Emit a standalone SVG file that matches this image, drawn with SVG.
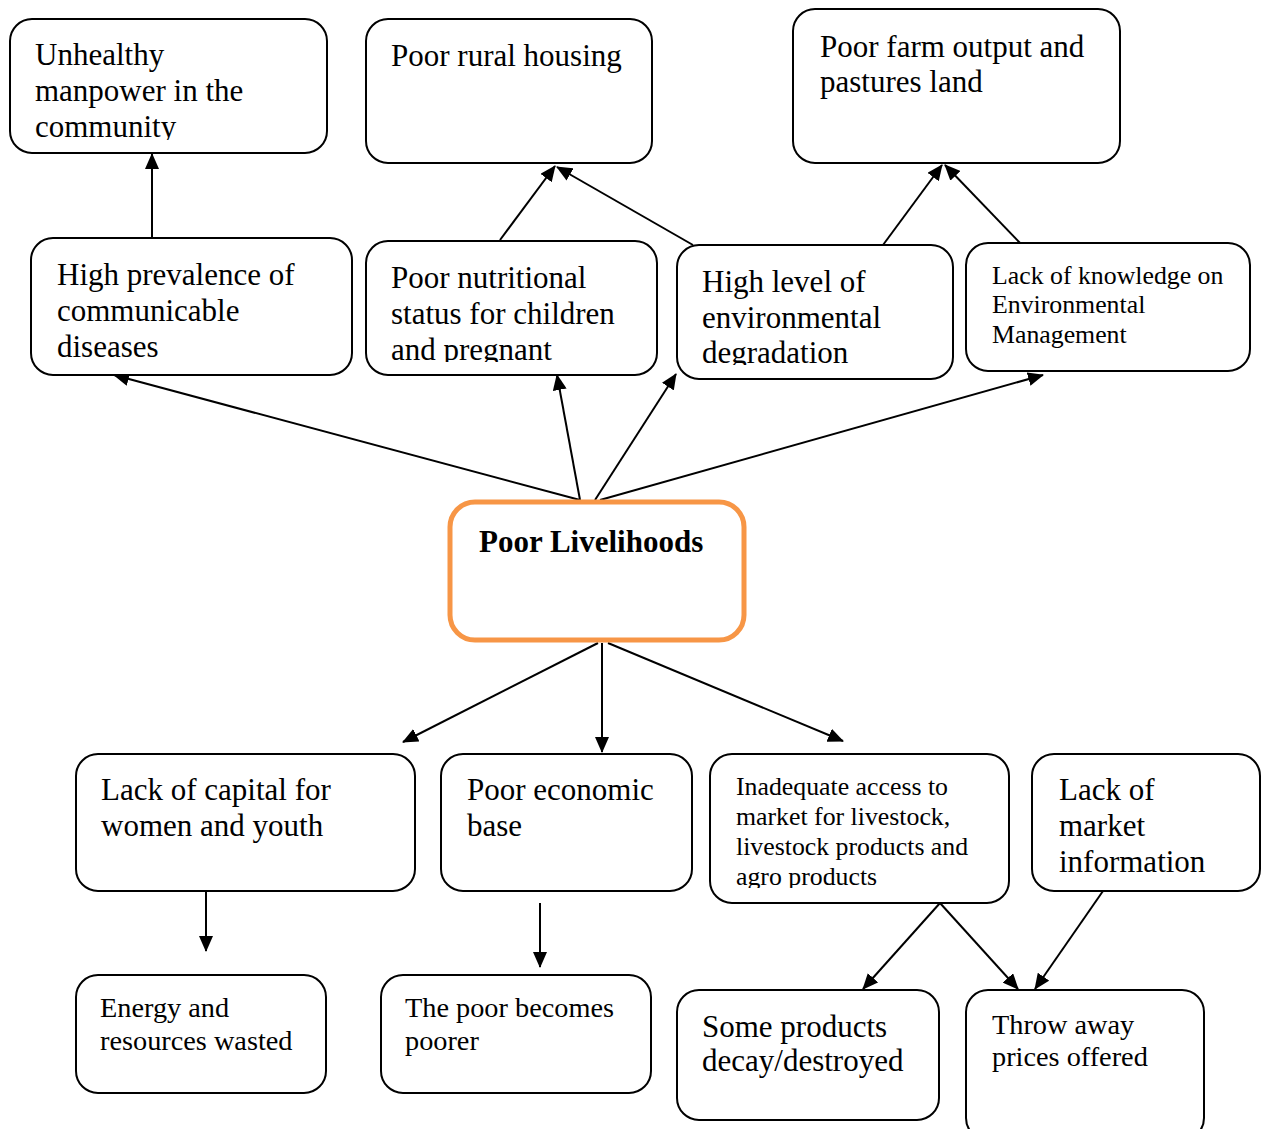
<svg xmlns="http://www.w3.org/2000/svg" width="1264" height="1129" viewBox="0 0 1264 1129">
<style>
.box{fill:#fff;stroke:#000;stroke-width:2}
.main{fill:#fff;stroke:#F79646;stroke-width:5}
.t{font-family:"Liberation Serif","Times New Roman",serif;fill:#000;font-size:31px}
.s26{font-size:25.8px}
.s28{font-size:28.3px}
.b{font-weight:bold}
.c{stroke:#000;stroke-width:2;fill:none;marker-end:url(#ah)}
</style>
<defs>
<marker id="ah" markerUnits="userSpaceOnUse" markerWidth="16" markerHeight="14" refX="15" refY="7" orient="auto">
<path d="M0,0 L16,7 L0,14 Z" fill="#000"/>
</marker>
<clipPath id="cp1"><rect x="10" y="19" width="317" height="121"/></clipPath>
<clipPath id="cp5"><rect x="366" y="241" width="291" height="121"/></clipPath>
<clipPath id="cp6"><rect x="677" y="245" width="276" height="120"/></clipPath>
<clipPath id="cp10"><rect x="710" y="754" width="299" height="134"/></clipPath>
</defs>

<g id="connectors">
<line class="c" x1="152" y1="238" x2="152" y2="154"/>
<line class="c" x1="500" y1="240" x2="555" y2="166"/>
<line class="c" x1="693" y1="245" x2="557" y2="167"/>
<line class="c" x1="883" y1="245" x2="942" y2="165"/>
<line class="c" x1="1020" y1="243" x2="945" y2="165"/>
<line class="c" x1="580" y1="500" x2="114" y2="375"/>
<line class="c" x1="580" y1="500" x2="557" y2="375"/>
<line class="c" x1="595" y1="500" x2="676" y2="374"/>
<line class="c" x1="600" y1="500" x2="1043" y2="375"/>
<line class="c" x1="598" y1="643" x2="403" y2="742"/>
<line class="c" x1="602" y1="643" x2="602" y2="752"/>
<line class="c" x1="608" y1="643" x2="843" y2="741"/>
<line class="c" x1="206" y1="891" x2="206" y2="951"/>
<line class="c" x1="540" y1="903" x2="540" y2="967"/>
<line class="c" x1="940" y1="903" x2="863" y2="989"/>
<line class="c" x1="940" y1="903" x2="1018" y2="989"/>
<line class="c" x1="1103" y1="891" x2="1035" y2="989"/>
</g>

<g id="n1">
<rect class="box" x="10" y="19" width="317" height="134" rx="22"/>
<g clip-path="url(#cp1)"><text class="t" x="35" y="65">Unhealthy</text><text class="t" x="35" y="101">manpower in the</text><text class="t" x="35" y="137">community</text></g>
</g>
<g id="n2">
<rect class="box" x="366" y="19" width="286" height="144" rx="22"/>
<text class="t" x="391" y="66">Poor rural housing</text>
</g>
<g id="n3">
<rect class="box" x="793" y="9" width="327" height="154" rx="22"/>
<text class="t" x="820" y="57">Poor farm output and</text>
<text class="t" x="820" y="92">pastures land</text>
</g>
<g id="n4">
<rect class="box" x="31" y="238" width="321" height="137" rx="22"/>
<text class="t" x="57" y="285">High prevalence of</text>
<text class="t" x="57" y="321">communicable</text>
<text class="t" x="57" y="357">diseases</text>
</g>
<g id="n5">
<rect class="box" x="366" y="241" width="291" height="134" rx="22"/>
<g clip-path="url(#cp5)"><text class="t" x="391" y="288">Poor nutritional</text><text class="t" x="391" y="324">status for children</text><text class="t" x="391" y="360">and pregnant</text></g>
</g>
<g id="n6">
<rect class="box" x="677" y="245" width="276" height="134" rx="22"/>
<g clip-path="url(#cp6)"><text class="t" x="702" y="292">High level of</text><text class="t" x="702" y="328">environmental</text><text class="t" x="702" y="363">degradation</text></g>
</g>
<g id="n7">
<rect class="box" x="966" y="243" width="284" height="128" rx="22"/>
<text class="t s26" x="992" y="284">Lack of knowledge on</text>
<text class="t s26" x="992" y="313">Environmental</text>
<text class="t s26" x="992" y="343">Management</text>
</g>
<g id="n-main">
<rect class="main" x="450" y="502" width="294" height="138" rx="25"/>
<text class="t b" x="479" y="552">Poor Livelihoods</text>
</g>
<g id="n8">
<rect class="box" x="76" y="754" width="339" height="137" rx="22"/>
<text class="t" x="101" y="800">Lack of capital for</text>
<text class="t" x="101" y="836">women and youth</text>
</g>
<g id="n9">
<rect class="box" x="441" y="754" width="251" height="137" rx="22"/>
<text class="t" x="467" y="800">Poor economic</text>
<text class="t" x="467" y="836">base</text>
</g>
<g id="n10">
<rect class="box" x="710" y="754" width="299" height="149" rx="22"/>
<g clip-path="url(#cp10)"><text class="t s26" x="736" y="795">Inadequate access to</text><text class="t s26" x="736" y="825">market for livestock,</text><text class="t s26" x="736" y="855">livestock products and</text><text class="t s26" x="736" y="885">agro products</text></g>
</g>
<g id="n11">
<rect class="box" x="1032" y="754" width="228" height="137" rx="22"/>
<text class="t" x="1059" y="800">Lack of</text>
<text class="t" x="1059" y="836">market</text>
<text class="t" x="1059" y="872">information</text>
</g>
<g id="n12">
<rect class="box" x="76" y="975" width="250" height="118" rx="22"/>
<text class="t s28" x="100" y="1017">Energy and</text>
<text class="t s28" x="100" y="1050">resources wasted</text>
</g>
<g id="n13">
<rect class="box" x="381" y="975" width="270" height="118" rx="22"/>
<text class="t s28" x="405" y="1017">The poor becomes</text>
<text class="t s28" x="405" y="1050">poorer</text>
</g>
<g id="n14">
<rect class="box" x="677" y="990" width="262" height="130" rx="22"/>
<text class="t" x="702" y="1037">Some products</text>
<text class="t" x="702" y="1071">decay/destroyed</text>
</g>
<g id="n15">
<rect class="box" x="966" y="990" width="238" height="150" rx="22"/>
<text class="t s28" x="992" y="1034">Throw away</text>
<text class="t s28" x="992" y="1066">prices offered</text>
</g>
</svg>
